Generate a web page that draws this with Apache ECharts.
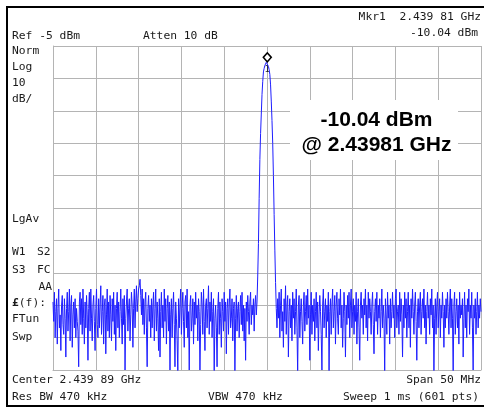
<!DOCTYPE html>
<html><head><meta charset="utf-8">
<script src="https://cdn.jsdelivr.net/npm/echarts@6/dist/echarts.min.js"></script>
<style>html,body{margin:0;padding:0;background:#fff}#c{width:484px;height:408px}</style>
</head><body><div id="c"></div>
<script>
// ---- data ----
const centerGHz = 2.43989;
const spanMHz = 50;
const sweepPoints = 601;
const refLevelDbm = -5;
const dbPerDiv = 10;
const divisions = 10;

// trace, sweep points 0..285 (noise left of carrier), dBm
const noiseLeft = [
-84,-90,-81,-95,-87,-83,-97,-86,-80,-92,-88,-99,-85,-82,-91,-94,-83,-89,-101,-86,
-81,-93,-87,-80,-96,-85,-82,-98,-88,-84,-92,-83,-95,-86,-90,-93,-104,-84,-81,-91,
-83,-94,-80,-89,-97,-84,-92,-82,-88,-102,-86,-81,-93,-80,-89,-96,-85,-82,-90,-99,
-86,-80,-91,-95,-83,-92,-85,-79,-94,-87,-82,-97,-85,-83,-100,-88,-80,-93,-84,-95,
-82,-88,-96,-83,-90,-81,-94,-85,-99,-86,-81,-92,-84,-95,-87,-80,-89,-97,-83,-91,
-82,-105,-89,-84,-80,-93,-86,-83,-96,-88,-81,-85,-98,-86,-80,-92,-84,-79,-87,-83,
-80,-79,-77,-82,-88,-80,-91,-83,-94,-84,-81,-92,-104,-86,-82,-90,-85,-95,-83,-92,
-85,-81,-96,-86,-80,-93,-84,-89,-99,-83,-101,-87,-81,-92,-85,-95,-80,-90,-83,-97,
-86,-82,-93,-84,-105,-88,-83,-95,-86,-81,-91,-104,-84,-89,-96,-106,-83,-92,-85,-80,
-94,-86,-81,-90,-98,-84,-82,-92,-80,-95,-87,-105,-85,-82,-93,-89,-83,-97,-84,-91,
-81,-89,-85,-96,-83,-87,-105,-91,-81,-85,-94,-80,-90,-99,-85,-83,-92,-86,-79,-94,
-84,-90,-81,-95,-87,-83,-106,-89,-85,-92,-104,-86,-81,-94,-84,-89,-98,-83,-87,-93,
-81,-90,-84,-100,-86,-83,-94,-85,-80,-92,-89,-83,-96,-86,-84,-106,-89,-82,-93,-86,
-84,-95,-87,-82,-91,-81,-93,-85,-96,-86,-102,-84,-90,-82,-87,-94,-84,-81,-91,-85,
-88,-83,-93,-85,-82,-88
];
// sweep points 286..313 (carrier lobe), dBm
const peakLobe = [
-84,-76,-66,-52,-40,-32,-26,-20,-16,-13.0,-11.9,-11.0,-10.4,-10.04,
-10.2,-10.6,-11.3,-12.3,-13.8,-17,-22,-28,-35,-45,-57,-68,-78,-86
];
// sweep points 314..600 (noise right of carrier), dBm
const noiseRight = [
-92,-83,-89,-81,-95,-85,-80,-93,-87,-98,-83,-90,-79,-94,-85,-82,-101,-87,-83,-92,
-85,-96,-81,-89,-83,-94,-87,-80,-92,-106,-85,-82,-95,-87,-83,-90,-97,-85,-81,-93,
-87,-82,-91,-80,-89,-85,-102,-88,-81,-94,-85,-90,-83,-96,-87,-81,-92,-84,-99,-88,
-82,-87,-94,-105,-85,-80,-92,-87,-83,-95,-85,-90,-81,-106,-87,-83,-94,-85,-80,-92,
-87,-82,-97,-85,-81,-89,-94,-83,-88,-80,-92,-85,-98,-89,-81,-87,-101,-85,-91,-82,
-89,-81,-95,-85,-80,-92,-87,-83,-94,-85,-90,-81,-97,-87,-83,-92,-102,-85,-81,-89,
-85,-94,-83,-88,-80,-92,-85,-96,-81,-89,-83,-87,-94,-85,-81,-91,-100,-87,-83,-90,
-81,-94,-85,-89,-83,-95,-87,-80,-92,-85,-89,-106,-83,-88,-94,-81,-89,-85,-97,-83,
-92,-87,-81,-89,-85,-95,-83,-80,-92,-87,-85,-94,-81,-90,-83,-88,-101,-85,-92,-81,
-89,-83,-95,-87,-81,-92,-85,-98,-83,-89,-80,-87,-94,-85,-81,-90,-102,-87,-83,-92,
-85,-81,-94,-87,-83,-89,-80,-92,-85,-97,-87,-81,-89,-85,-94,-83,-88,-80,-92,-85,
-106,-89,-83,-94,-85,-81,-92,-87,-83,-95,-85,-89,-81,-87,-98,-85,-92,-83,-89,-81,
-87,-94,-85,-80,-92,-83,-89,-106,-85,-81,-94,-87,-83,-92,-85,-97,-81,-89,-85,-88,
-83,-101,-89,-81,-92,-85,-95,-83,-87,-80,-94,-85,-89,-81,-92,-105,-85,-89,-83,-94,
-87,-81,-92,-85,-89,-83,-87
];
const markerIndex = 299;
const markerDbm = -10.04;

// ---- texts ----
const headerLeft = ['Ref -5 dBm', 'Atten 10 dB'];
const markerLines = ['Mkr1  2.439 81 GHz', '-10.04 dBm'];
const sideLabels = ['Norm', 'Log', '10', 'dB/'];
const annotation = ['-10.04 dBm', '@ 2.43981 GHz'];
const footer = ['Center 2.439 89 GHz', 'Span 50 MHz', 'Res BW 470 kHz', 'VBW 470 kHz', 'Sweep 1 ms (601 pts)'];

// ---- build ----
const trace = noiseLeft.concat(peakLobe, noiseRight);
const step = spanMHz / (sweepPoints - 1);
const xOf = i => -spanMHz / 2 + i * step;
const seriesData = trace.map((v, i) => [xOf(i), v]);
const yMax = refLevelDbm, yMin = refLevelDbm - dbPerDiv * divisions;

const MONO = '"DejaVu Sans Mono", "Liberation Mono", monospace';
const FS = 11.3;
const TC = '#1a1a1a';
function t(text, x, y, align, extra) {
  return { type: 'text', z: 100, style: Object.assign({
    text: text, x: x, y: y, fill: TC, fontFamily: MONO, fontSize: FS,
    align: align || 'left', verticalAlign: 'middle'
  }, extra || {}) };
}

const chart = echarts.init(document.getElementById('c'), null, { renderer: 'canvas' });
const gridColor = '#b4b4b4';
chart.setOption({
  animation: false,
  backgroundColor: '#fff',
  grid: { left: 53, top: 46, right: 3, bottom: 38, containLabel: false },
  xAxis: {
    type: 'value', min: -spanMHz / 2, max: spanMHz / 2, interval: spanMHz / divisions,
    axisLabel: { show: false }, axisTick: { show: false },
    axisLine: { show: true, onZero: false, lineStyle: { color: gridColor, width: 1 } },
    splitLine: { show: true, lineStyle: { color: gridColor, width: 1 } }
  },
  yAxis: {
    type: 'value', min: yMin, max: yMax, interval: dbPerDiv,
    axisLabel: { show: false }, axisTick: { show: false },
    axisLine: { show: true, onZero: false, lineStyle: { color: gridColor, width: 1 } },
    splitLine: { show: true, lineStyle: { color: gridColor, width: 1 } }
  },
  series: [{
    type: 'line', data: seriesData, showSymbol: false, symbol: 'none',
    lineStyle: { color: '#1e1eff', width: 1 }, clip: true, z: 5,
    markPoint: {
      symbol: 'diamond', symbolSize: [8, 9], symbolOffset: [1, -5],
      itemStyle: { color: '#fff', borderColor: '#000', borderWidth: 1.5 },
      label: { show: true, formatter: '1', position: 'inside', offset: [0, 12], color: '#222', fontSize: 9, fontFamily: MONO },
      data: [{ coord: [xOf(markerIndex), markerDbm] }]
    }
  }],
  graphic: [
    // outer instrument frame
    { type: 'line', z: 100, shape: { x1: 6, y1: 7, x2: 484, y2: 7 }, style: { stroke: '#000', lineWidth: 2 } },
    { type: 'line', z: 100, shape: { x1: 7, y1: 6, x2: 7, y2: 407 }, style: { stroke: '#000', lineWidth: 2 } },
    { type: 'line', z: 100, shape: { x1: 6, y1: 406, x2: 484, y2: 406 }, style: { stroke: '#000', lineWidth: 2 } },
    t(markerLines[0], 481, 17, 'right'),
    t(markerLines[1], 478, 33.5, 'right'),
    t(headerLeft[0], 12, 36),
    t(headerLeft[1], 143, 36),
    t(sideLabels[0], 12, 51),
    t(sideLabels[1], 12, 67),
    t(sideLabels[2], 12, 83),
    t(sideLabels[3], 12, 99),
    t('LgAv', 12, 219),
    t('W1', 12, 252), t('S2', 37, 252),
    t('S3', 12, 270), t('FC', 37, 270),
    t('AA', 52, 287, 'right'),
    t('{b|£}(f):', 12, 303, 'left', { rich: { b: { fontWeight: 'bold', fontFamily: MONO, fontSize: FS, fill: TC } } }),
    t('FTun', 12, 319),
    t('Swp', 12, 337),
    t(footer[0], 12, 380),
    t(footer[1], 481, 380, 'right'),
    t(footer[2], 12, 397),
    t(footer[3], 208, 397),
    t(footer[4], 479, 397, 'right'),
    // annotation box
    { type: 'rect', z: 99, shape: { x: 290, y: 100, width: 168, height: 60 }, style: { fill: '#fff' } },
    t(annotation[0], 376.5, 120, 'center', { fontFamily: '"Liberation Sans", Arial, sans-serif', fontWeight: 'bold', fontSize: 21, fill: '#000' }),
    t(annotation[1], 376.5, 145, 'center', { fontFamily: '"Liberation Sans", Arial, sans-serif', fontWeight: 'bold', fontSize: 21, fill: '#000' })
  ]
});
</script></body></html>
